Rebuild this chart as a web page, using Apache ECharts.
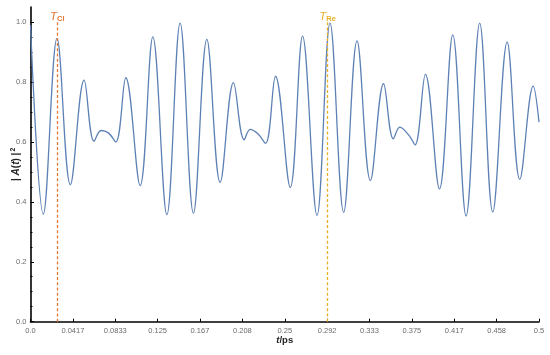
<!DOCTYPE html>
<html><head><meta charset="utf-8">
<script src="https://cdn.jsdelivr.net/npm/echarts@6/dist/echarts.min.js"></script>
<style>html,body{margin:0;padding:0;background:#fff}#c{width:550px;height:355px}</style>
</head><body><div id="c"></div>
<script>
// Tick positions and labels
const xTickValues = [0, 0.0416667, 0.0833333, 0.125, 0.1666667, 0.2083333, 0.25, 0.2916667, 0.3333333, 0.375, 0.4166667, 0.4583333, 0.5];
const xTickLabels = ['0.0', '0.0417', '0.0833', '0.125', '0.167', '0.208', '0.25', '0.292', '0.333', '0.375', '0.417', '0.458', '0.5'];
const yTickValues = [0, 0.2, 0.4, 0.6, 0.8, 1.0];
const yTickLabels = ['0.0', '0.2', '0.4', '0.6', '0.8', '1.0'];
const yMinorTicks = [0.05, 0.1, 0.15, 0.25, 0.3, 0.35, 0.45, 0.5, 0.55, 0.65, 0.7, 0.75, 0.85, 0.9, 0.95];

// |A(t)|^2 curve (extrema and shoulders)
const timePs = [0, 0.0126, 0.0261, 0.0392, 0.0527, 0.0625, 0.0694, 0.0766, 0.0839, 0.0937,
  0.1078, 0.1203, 0.1341, 0.1471, 0.1602, 0.1734, 0.1865, 0.1996, 0.2101, 0.2160,
  0.2236, 0.2311, 0.2409, 0.2554, 0.2675, 0.2817, 0.2945, 0.3079, 0.3211, 0.3342,
  0.3472, 0.3568, 0.3632, 0.3725, 0.3781, 0.3883, 0.4021, 0.4152, 0.4283, 0.4417,
  0.4545, 0.4687, 0.4811, 0.4943, 0.5];
const intensity = [0.99, 0.359, 0.945, 0.457, 0.806, 0.602, 0.638, 0.630, 0.600, 0.814,
  0.454, 0.950, 0.357, 0.996, 0.362, 0.942, 0.465, 0.798, 0.607, 0.642,
  0.627, 0.595, 0.819, 0.448, 0.953, 0.355, 0.996, 0.365, 0.937, 0.471,
  0.794, 0.610, 0.649, 0.620, 0.590, 0.825, 0.443, 0.957, 0.353, 0.996,
  0.366, 0.933, 0.475, 0.786, 0.666];

// Marker lines
const markerNames = ['Cl', 'Re'];
const markerTimes = [0.0264, 0.2921];
const markerTop = [1.0, 1.0];
const markerColors = ['#e5772e', '#e8b025'];

const chart = echarts.init(document.getElementById('c'), null, {renderer: 'canvas'});

const markData = markerNames.map((n, i) => [
  {
    coord: [markerTimes[i], 0],
    lineStyle: {color: markerColors[i], type: [3, 2.2], width: 1.3, opacity: 1},
    label: {
      show: true, position: 'end', distance: -1,
      formatter: '{t|T}{s|' + n + '}',
      rich: {
        t: {fontFamily: 'Liberation Sans', fontStyle: 'italic', fontSize: 11.5, color: markerColors[i], verticalAlign: 'bottom'},
        s: {fontFamily: 'Liberation Sans', fontWeight: 'bold', fontSize: 7.5, color: markerColors[i], padding: [5, 0, 0, 0], verticalAlign: 'bottom'}
      }
    }
  },
  {coord: [markerTimes[i], markerTop[i]]}
]);

const labelStyle = {fontFamily: 'Liberation Sans', fontSize: 7.5, color: '#6b6b6b'};

chart.setOption({
  animation: false,
  grid: {left: 30.5, right: 11, top: 7, bottom: 33.3, outerBoundsMode: 'none', containLabel: false},
  xAxis: {
    type: 'value', min: 0, max: 0.5,
    axisLine: {show: true, lineStyle: {color: '#000', width: 1.6}},
    axisTick: {show: true, inside: true, length: 3, customValues: xTickValues, lineStyle: {color: '#000', width: 1}},
    axisLabel: Object.assign({
      customValues: xTickValues, margin: 5,
      formatter: v => xTickLabels[Math.round(v * 24)]
    }, labelStyle),
    splitLine: {show: false},
    name: '{i|t}{b|/ps}', nameLocation: 'middle', nameGap: 14, nameMoveOverlap: false,
    nameTextStyle: {rich: {
      i: {fontFamily: 'Liberation Sans', fontStyle: 'italic', fontWeight: 'bold', fontSize: 9.5, color: '#222'},
      b: {fontFamily: 'Liberation Sans', fontWeight: 'bold', fontSize: 9.5, color: '#222'}
    }}
  },
  yAxis: [{
    type: 'value', min: 0, max: 1.05,
    axisLine: {show: true, lineStyle: {color: '#000', width: 1.6}},
    axisTick: {show: true, inside: true, length: 3.5, customValues: yTickValues, lineStyle: {color: '#000', width: 1}},
    axisLabel: Object.assign({
      customValues: yTickValues, margin: 4,
      formatter: v => yTickLabels[Math.round(v * 5)]
    }, labelStyle),
    splitLine: {show: false},
    name: '{a|| }{i|A}{a|(}{i|t}{a|) |}{p|2}', nameLocation: 'middle', nameGap: 8, nameRotate: 90, nameMoveOverlap: false,
    nameTextStyle: {rich: {
      a: {fontFamily: 'Liberation Sans', fontWeight: 'bold', fontSize: 10, color: '#222'},
      i: {fontFamily: 'Liberation Sans', fontStyle: 'italic', fontWeight: 'bold', fontSize: 10, color: '#222'},
      p: {fontFamily: 'Liberation Sans', fontWeight: 'bold', fontSize: 7, color: '#222', padding: [0, 0, 6, 1]}
    }}
  }, {
    type: 'value', min: 0, max: 1.05, position: 'left', offset: 0,
    axisLine: {show: false},
    axisTick: {show: true, inside: true, length: 2, customValues: yMinorTicks, lineStyle: {color: '#000', width: 1}},
    axisLabel: {show: false},
    splitLine: {show: false}
  }],
  series: [{
    type: 'line',
    data: timePs.map((t, i) => [t, intensity[i]]),
    showSymbol: false,
    smooth: 0.38,
    lineStyle: {color: '#5e81b5', width: 1.3},
    itemStyle: {color: '#5e81b5'},
    markLine: {silent: true, symbol: 'none', animation: false, data: markData}
  }]
});
</script>
</body></html>
